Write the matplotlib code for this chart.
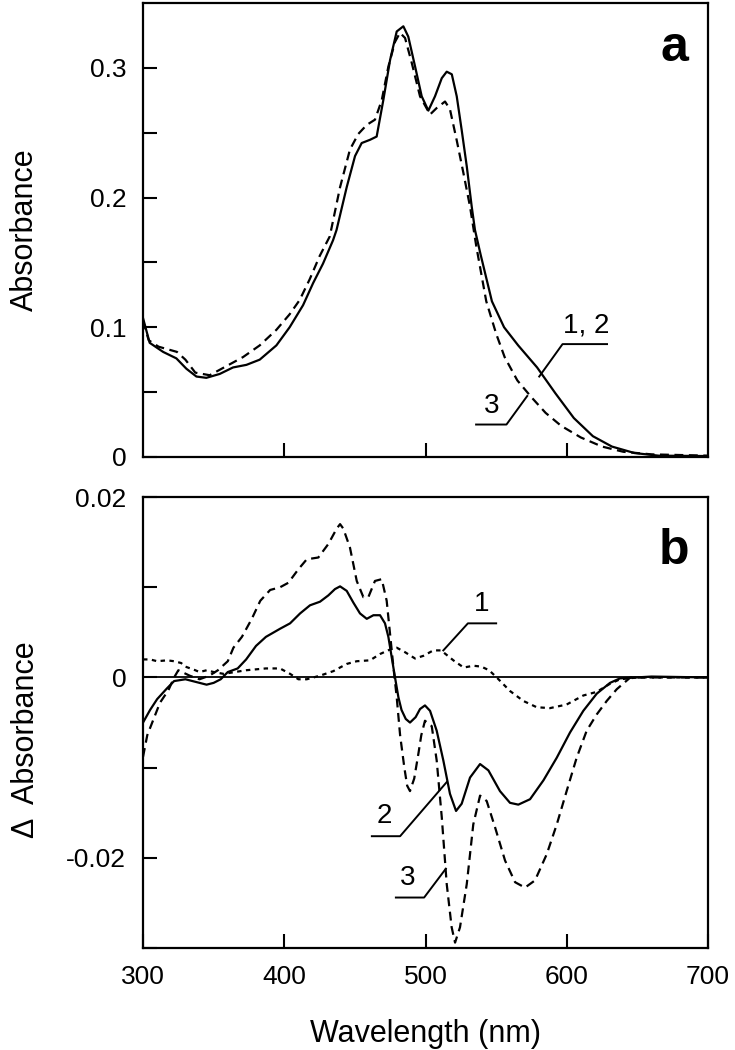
import numpy as np
import matplotlib.pyplot as plt
from matplotlib.ticker import MultipleLocator

plt.rcParams['font.family'] = ['Liberation Sans', 'DejaVu Sans']

# ---- panel a: absorbance spectra ----
wl_a12 = [300, 304.7, 314.2, 323.6, 330.7, 337.8, 344.8, 354.3, 363.7, 373.2, 382.6,
          394.4, 403.8, 413.3, 420.4, 427.4, 434.5, 437, 444.2, 450.1, 454.8, 460.7,
          465.4, 470.1, 474.9, 479.6, 484.3, 487.8, 492.6, 497.3, 502, 506.7, 511.5,
          515, 518.6, 522.1, 525.6, 529.2, 532.7, 535, 539, 547, 555.6, 565.6, 579, 592,
          605, 618.5, 632, 648, 665, 700]
abs_a12 = [0.107, 0.088, 0.081, 0.076, 0.068, 0.062, 0.061, 0.064, 0.069, 0.071, 0.075,
           0.086, 0.100, 0.117, 0.134, 0.149, 0.167, 0.175, 0.208, 0.232, 0.242, 0.2445,
           0.247, 0.275, 0.306, 0.328, 0.332, 0.324, 0.301, 0.278, 0.267, 0.278, 0.292,
           0.297, 0.295, 0.278, 0.252, 0.224, 0.193, 0.175, 0.156, 0.120, 0.100, 0.086,
           0.069, 0.049, 0.030, 0.016, 0.008, 0.003, 0.001, 0.0007]

wl_a3 = [300, 304, 311, 324, 330, 337, 347.2, 359, 370.8, 382.6, 394.4, 403.8, 410.9,
         418, 425.1, 432.2, 439.5, 446.5, 452.4, 458.4, 464.2, 469, 473.7, 478.4, 481.9,
         485.5, 490.2, 496.1, 503.2, 507.9, 513.8, 517.3, 522.1, 526.8, 531.5, 536, 543,
         550, 556, 565, 575, 585, 596, 610, 625, 640, 660, 700]
abs_a3 = [0.105, 0.090, 0.085, 0.081, 0.075, 0.065, 0.063, 0.070, 0.077, 0.086, 0.098,
          0.110, 0.121, 0.137, 0.155, 0.170, 0.208, 0.237, 0.249, 0.256, 0.260, 0.275,
          0.301, 0.320, 0.327, 0.323, 0.304, 0.278, 0.264, 0.269, 0.274, 0.268, 0.244,
          0.219, 0.193, 0.162, 0.120, 0.095, 0.077, 0.059, 0.046, 0.034, 0.024, 0.015,
          0.008, 0.004, 0.002, 0.001]

# ---- panel b: difference spectra ----
wl_b1 = [300, 305, 310, 317, 322, 327, 330, 337, 340, 345, 350, 357, 365, 373, 380, 387,
         397, 404.1, 410, 415.9, 425.3, 434.7, 444.2, 451.3, 460.7, 467.8, 474.9, 479.6,
         485.5, 492.6, 498.5, 505.5, 511, 519.7, 527, 534, 539.5, 545, 550.4, 559.8,
         569.2, 578.7, 588.1, 599.9, 611.7, 621.2, 630.6, 637.7, 650, 700]
dabs_b1 = [0.0020, 0.0020, 0.0018, 0.0019, 0.0018, 0.0016, 0.0012, 0.0008, 0.0006,
           0.0008, 0.0006, 0.0004, 0.0006, 0.0008, 0.0009, 0.0010, 0.0010, 0.0004,
           -0.0002, -0.0002, 0.0002, 0.0007, 0.0015, 0.0018, 0.0019, 0.0026, 0.0031,
           0.0033, 0.0028, 0.0021, 0.0024, 0.0030, 0.0030, 0.0019, 0.0011, 0.0013,
           0.0012, 0.0008, 0.0, -0.0015, -0.0026, -0.0033, -0.0034, -0.0030, -0.0020,
           -0.0016, -0.0007, -0.0002, 0.0, 0.0]

wl_b2 = [300, 305, 310, 317, 322, 330, 335, 340, 345, 350, 355, 360, 367, 373, 380, 387,
         397, 404.1, 411.2, 418.2, 425.3, 431.2, 435.9, 439.5, 444.2, 448.9, 453.6,
         458.4, 463.1, 467.8, 471.3, 473.7, 476.1, 478.4, 480.8, 483, 486, 489, 493,
         496.1, 499.6, 503.2, 507.9, 512.6, 517.3, 521.6, 525.6, 531.5, 538.6, 544.5,
         552.7, 559.8, 565.7, 574, 583.5, 592.9, 602.3, 611.7, 621.2, 630.6, 637.7, 660,
         700]
dabs_b2 = [-0.0050, -0.0036, -0.0024, -0.0012, -0.0004, -0.0002, -0.0004, -0.0006,
           -0.0008, -0.0006, -0.0002, 0.0006, 0.0010, 0.0020, 0.0035, 0.0045, 0.0054,
           0.0060, 0.0071, 0.0080, 0.0084, 0.0091, 0.0098, 0.0101, 0.0096, 0.0083, 0.0071,
           0.0065, 0.0069, 0.0069, 0.0060, 0.0045, 0.0022, 0.0, -0.0022, -0.0036, -0.0046,
           -0.0050, -0.0044, -0.0035, -0.0031, -0.0037, -0.0059, -0.0092, -0.0129,
           -0.0148, -0.0140, -0.0111, -0.0096, -0.0103, -0.0126, -0.0139, -0.0141,
           -0.0135, -0.0114, -0.0089, -0.0061, -0.0037, -0.0018, -0.0006, -0.0001,
           0.0001, 0.0]

wl_b3 = [300, 303, 307, 312, 318, 322, 325, 333, 340, 347, 353, 360, 364, 370, 377, 383,
         390, 397, 402.9, 410, 415.9, 424.1, 431.2, 437.1, 439.5, 441.8, 446.5, 451.3,
         456, 459.5, 464.2, 469, 472.5, 474.9, 477.3, 479.6, 482, 485, 487, 489, 492, 495,
         497, 499.6, 504.4, 507.9, 511.5, 515, 518.5, 520.9, 524.4, 529.2, 533.8, 538.6,
         543.3, 549.2, 556.3, 563.4, 570.4, 577.5, 585.8, 592.9, 599.9, 607, 614.1,
         621.2, 628.3, 635.4, 645, 700]
dabs_b3 = [-0.0088, -0.0064, -0.0048, -0.0028, -0.0014, 0.0, 0.0008, 0.0002, -0.0002,
           0.0002, 0.0008, 0.0018, 0.0033, 0.0045, 0.0065, 0.0085, 0.0097, 0.0100, 0.0105,
           0.0120, 0.0131, 0.0133, 0.0148, 0.0165, 0.0170, 0.0165, 0.0144, 0.0107, 0.0089,
           0.0089, 0.0107, 0.0109, 0.0085, 0.0048, 0.0011, -0.0022, -0.0064, -0.0100,
           -0.0120, -0.0126, -0.0112, -0.0084, -0.0064, -0.0048, -0.0054, -0.0092,
           -0.0155, -0.0229, -0.0277, -0.0294, -0.0277, -0.0229, -0.0163, -0.0131,
           -0.0137, -0.0166, -0.0203, -0.0227, -0.0233, -0.0225, -0.0196, -0.0163,
           -0.0126, -0.0089, -0.0059, -0.0041, -0.0026, -0.0013, 0.0, 0.0]

# curve labels: (text, text x, text y, elbow x, elbow y, end x, end y, arm end x)
labels_a = [("1, 2", 614, 0.101, 597, 0.087, 580.5, 0.062, 628.5),
            ("3", 547, 0.039, 557.3, 0.025, 572, 0.047, 535.8)]
labels_b = [("1", 540, 0.0081, 530, 0.0060, 512.6, 0.0030, 550),
            ("2", 471, -0.0154, 482, -0.0176, 515, -0.0116, 462),
            ("3", 487, -0.0222, 499, -0.0244, 514.4, -0.0212, 479)]

fig = plt.figure(figsize=(7.35, 10.5), dpi=100)
ax1 = fig.add_axes([0.1946, 0.5648, 0.7687, 0.4324])
ax2 = fig.add_axes([0.1946, 0.0971, 0.7687, 0.4295])

lw = 1.6
ax1.plot(wl_a12, abs_a12, color='black', lw=lw)
ax1.plot(wl_a3, abs_a3, color='black', lw=lw, ls=(0, (4, 2.5)))

ax2.axhline(0, color='black', lw=1.3)
ax2.plot(wl_b1, dabs_b1, color='black', lw=lw, ls=(0, (2, 2)))
ax2.plot(wl_b2, dabs_b2, color='black', lw=lw)
ax2.plot(wl_b3, dabs_b3, color='black', lw=lw, ls=(0, (4, 2.5)))

for ax, labs in ((ax1, labels_a), (ax2, labels_b)):
    for txt, tx, ty, ex, ey, px, py, hx in labs:
        ax.text(tx, ty, txt, fontsize=20, ha='center', va='center')
        ax.plot([hx, ex, px], [ey, ey, py], color='black', lw=1.4)

ax1.set_xlim(300, 700)
ax1.set_ylim(0, 0.35)
ax1.set_yticks([0, 0.05, 0.1, 0.15, 0.2, 0.25, 0.3])
ax1.set_yticklabels(['0', '', '0.1', '', '0.2', '', '0.3'])
ax1.set_xticks([400, 500, 600])
ax1.set_xticklabels([])
ax1.set_ylabel('Absorbance', fontsize=22, labelpad=36)
ax1.text(0.94, 0.9, 'a', transform=ax1.transAxes, fontsize=36, fontweight='bold',
         ha='center', va='center')

ax2.set_xlim(300, 700)
ax2.set_ylim(-0.03, 0.02)
ax2.set_yticks([-0.03, -0.02, -0.01, 0, 0.01, 0.02])
ax2.set_yticklabels(['', '-0.02', '', '0', '', '0.02'])
ax2.set_xticks([300, 400, 500, 600, 700])
ax2.set_xlabel('Wavelength (nm)', fontsize=22, labelpad=22)
ax2.set_ylabel('Δ  Absorbance', fontsize=22)
ax2.yaxis.set_label_coords(-0.18, 0.463)
ax2.text(0.94, 0.88, 'b', transform=ax2.transAxes, fontsize=36, fontweight='bold',
         ha='center', va='center')

for ax in (ax1, ax2):
    ax.tick_params(direction='in', length=10, width=1.5, labelsize=19, pad=12)
    for s in ax.spines.values():
        s.set_linewidth(1.6)

fig.savefig('out.png', dpi=100)
